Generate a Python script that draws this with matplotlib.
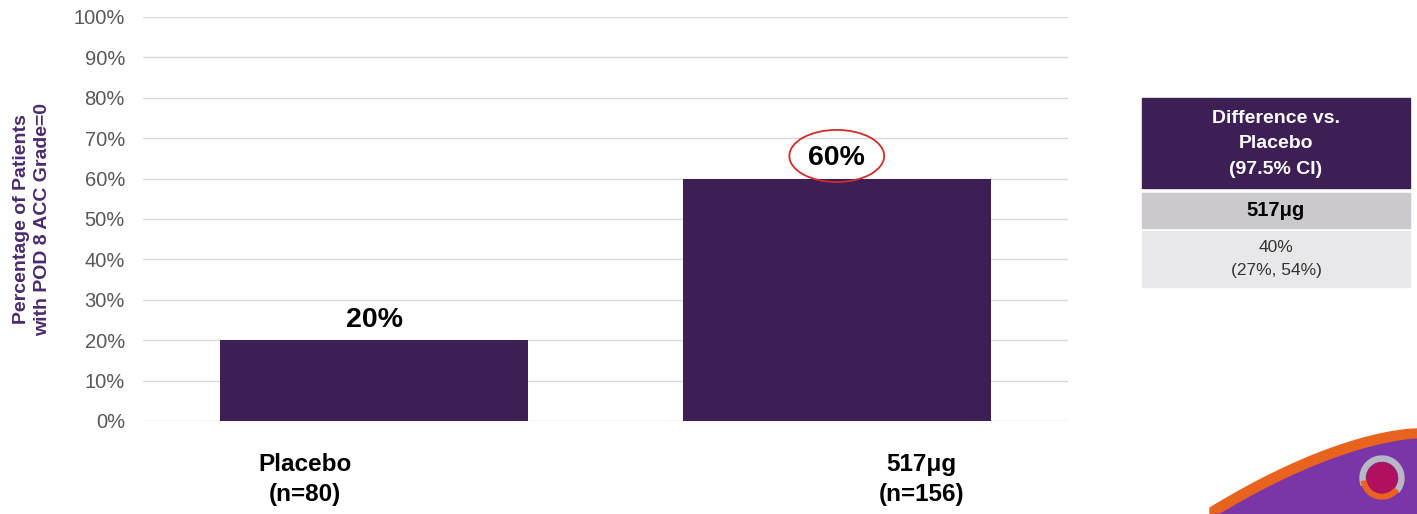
import numpy as np
import matplotlib
matplotlib.use("Agg")
import matplotlib.pyplot as plt
from matplotlib.patches import Ellipse, Rectangle, Polygon, Circle, Wedge

plt.rcParams["font.family"] = ["Liberation Sans", "DejaVu Sans"]

groups = ["Placebo\n(n=80)", "517\u03bcg\n(n=156)"]
pct = [20, 60]
value_labels = ["20%", "60%"]
yticks = list(range(0, 101, 10))
table_head = "Difference vs.\nPlacebo\n(97.5% CI)"
table_dose = "517\u03bcg"
table_diff = "40%\n(27%, 54%)"

purple = "#3d1f56"
W, H = 1417, 514
fig = plt.figure(figsize=(W / 100, H / 100), dpi=100)
ax = fig.add_axes([143 / W, 1 - 421 / H, (1068 - 143) / W, (421 - 17) / H])

x = np.arange(len(pct))
ax.bar(x, pct, width=0.665, color=purple, zorder=2)
ax.set_xlim(-0.5, 1.5)
ax.set_ylim(0, 100)
ax.set_yticks(yticks)
ax.set_yticklabels([f"{t}%" for t in yticks], color="#595959", fontsize=14.5)
ax.yaxis.grid(True, color="#d9d9d9", linewidth=1, zorder=0)
ax.tick_params(axis="y", length=0, pad=13)
ax.set_xticks([])
for s in ax.spines.values():
    s.set_visible(False)

ax.set_ylabel("Percentage of Patients\nwith POD 8 ACC Grade=0", color="#4b2a6e",
              fontsize=14, fontweight="bold", labelpad=16, linespacing=1.35)

# value labels above the bars
for i, (v, lab) in enumerate(zip(pct, value_labels)):
    ax.text(i, v + 5.0, lab, ha="center", va="center", fontsize=20.5,
            fontweight="bold", color="black")
# highlight ring round the active-dose value
ax.add_patch(Ellipse((1, pct[1] + 5.6), 0.205, 12.9, fill=False,
                     edgecolor="#d42a2a", linewidth=1.3, zorder=4))

# group labels under the axis
label_shift = [-0.15, 0.183]
for i, g in enumerate(groups):
    ax.text(i + label_shift[i], -7.8, g, ha="center", va="top", fontsize=17.5,
            fontweight="bold", color="black", linespacing=1.4, clip_on=False)

# side table with the treatment difference
tx0, tx1 = 1142 / W, 1410 / W
def fig_rect(y0, y1, color):
    fig.patches.append(Rectangle((tx0, 1 - y1 / H), tx1 - tx0, (y1 - y0) / H,
                                 transform=fig.transFigure, color=color, zorder=1))
fig_rect(98, 188, purple)
fig_rect(193, 228, "#cbc9ce")
fig_rect(231, 287, "#e8e7ea")
xc = (tx0 + tx1) / 2
fig.text(xc, 1 - 144 / H, table_head, ha="center", va="center", color="white",
         fontsize=14, fontweight="bold", linespacing=1.65)
fig.text(xc, 1 - 211 / H, table_dose, ha="center", va="center", color="black",
         fontsize=14.5, fontweight="bold")
fig.text(xc, 1 - 259 / H, table_diff, ha="center", va="center", color="#333333",
         fontsize=12.5, linespacing=1.6)

# corner swoosh, drawn in pixel units
px = fig.dpi_scale_trans
t = np.linspace(0, 1, 60)
cx = 1210 + 207 * t
cy = 514 - 79 * (1 - (1 - t) ** 1.6)
def to_in(pts):
    pts = np.asarray(pts, dtype=float)
    return np.column_stack([pts[:, 0] / 100, (H - pts[:, 1]) / 100])
orange = np.vstack([np.column_stack([cx, cy - 6]), [[1417, 514], [1210, 514]]])
purp = np.vstack([np.column_stack([cx + 4, cy + 4]), [[1417, 514], [1216, 514]]])
fig.patches.append(Polygon(to_in(orange), closed=True, transform=px,
                           color="#e8641e", zorder=1))
fig.patches.append(Polygon(to_in(purp), closed=True, transform=px,
                           color="#7a35a8", zorder=2))
lc = (13.82, (H - 478) / 100)
fig.patches.append(Wedge(lc, 0.22, -40, 200, width=0.05, transform=px,
                         color="#b8b8c4", zorder=3))
fig.patches.append(Wedge(lc, 0.21, 190, 320, width=0.09, transform=px,
                         color="#e8641e", zorder=3))
fig.patches.append(Circle(lc, 0.15, transform=px, color="#b0105e", zorder=4))

fig.savefig("out.png", dpi=100)
